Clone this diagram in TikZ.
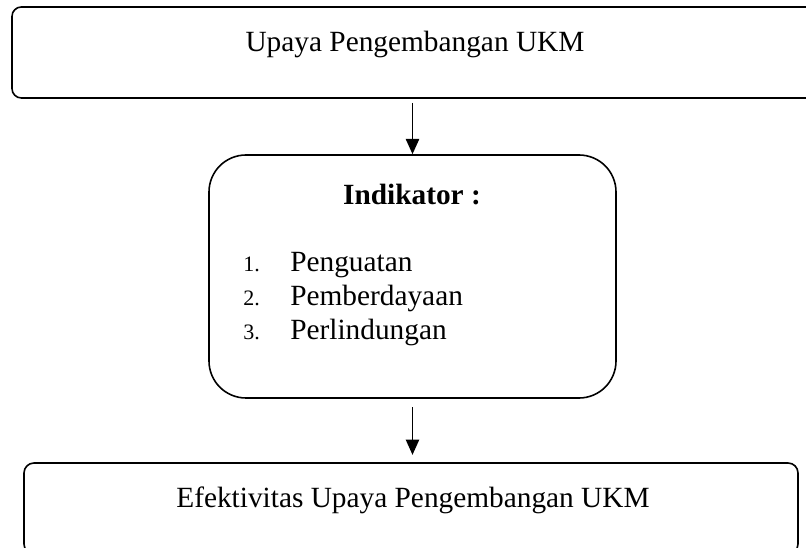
\documentclass[tikz,border=0pt]{standalone}
\usepackage{fontspec}
\setmainfont{Liberation Serif}
\usetikzlibrary{arrows.meta}
\tikzset{
  boxline/.style={draw=black, line width=1.2pt, fill=none, inner sep=0pt},
  txt/.style={inner sep=0pt, anchor=base, font=\fontsize{22pt}{26pt}\selectfont},
  num/.style={inner sep=0pt, anchor=base west, font=\fontsize{16.5pt}{19pt}\selectfont},
  item/.style={inner sep=0pt, anchor=base west, font=\fontsize{22pt}{26pt}\selectfont},
  arr/.style={line width=1.2pt, -{Triangle[length=11.5pt,width=10pt]}}
}
\begin{document}
\begin{tikzpicture}[x=0.75pt, y=-0.75pt]
\clip (0,0) rectangle (806,548);
\fill[white] (0,0) rectangle (806,548);
% boxes
\node[boxline, rounded corners=7pt, minimum width=603pt, minimum height=68.25pt] (topbox) at (414,52.5) {};
\node[boxline, rounded corners=27.75pt, minimum width=305.25pt, minimum height=182.25pt] (midbox) at (412.5,276.5) {};
\node[boxline, rounded corners=7.5pt, minimum width=580.5pt, minimum height=68.25pt] (botbox) at (411,508.5) {};
% texts
\node[txt] (toptext) at (415,52) {Upaya Pengembangan UKM};
\node[txt, font=\fontsize{22pt}{26pt}\selectfont\bfseries] (indik) at (412,205) {Indikator :};
\node[num] (n1) at (243,272) {1.};
\node[num] (n2) at (243,306) {2.};
\node[num] (n3) at (243,340) {3.};
\node[item] (i1) at (290,272) {Penguatan};
\node[item] (i2) at (290,306) {Pemberdayaan};
\node[item] (i3) at (290,340) {Perlindungan};
\node[txt] (bottext) at (413,507) {Efektivitas Upaya Pengembangan UKM};
% arrows
\draw[arr] ([yshift=-3pt]topbox.south -| midbox.north) -- (midbox.north);
\draw[arr] ([yshift=-6.5pt]midbox.south) -- ([yshift=5.5pt]botbox.north -| midbox.south);
\end{tikzpicture}
\end{document}
